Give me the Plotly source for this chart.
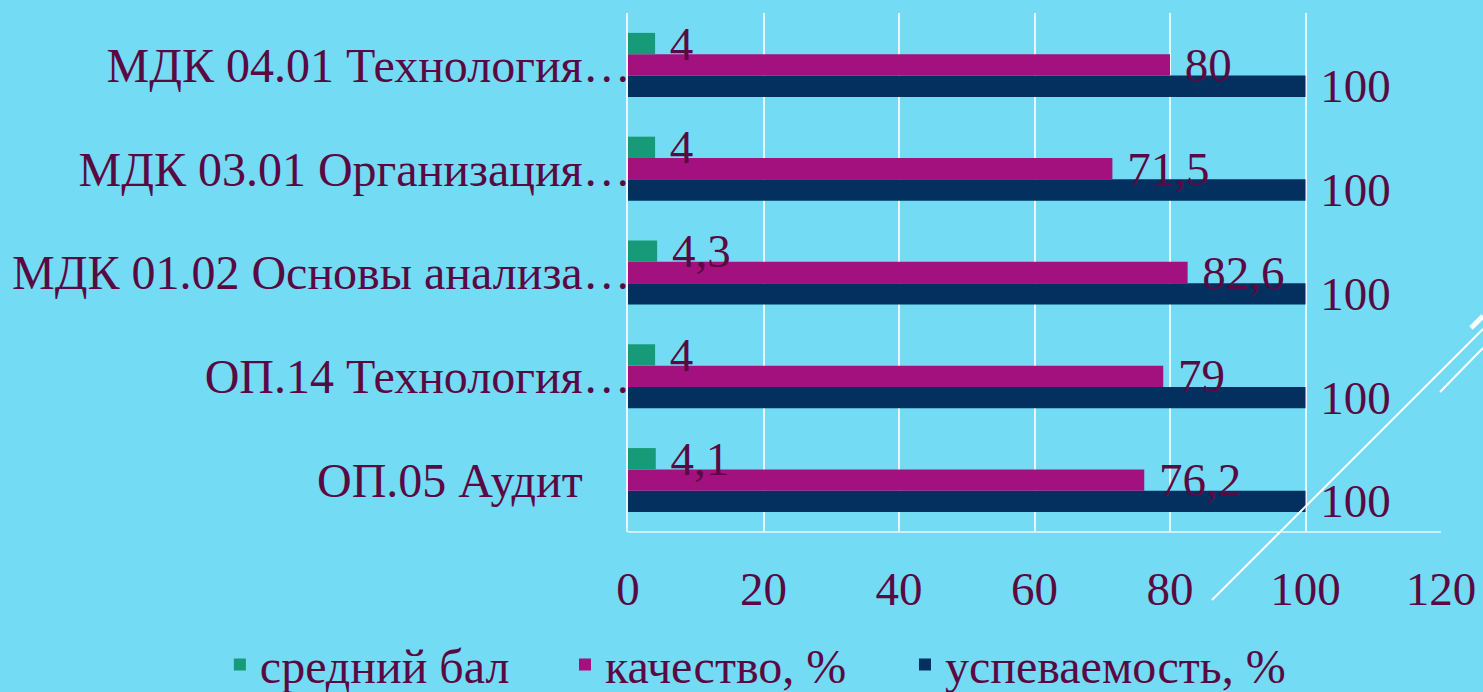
import plotly.graph_objects as go

categories = [
    "ОП.05 Аудит\u2003",
    "ОП.14 Технология…",
    "МДК 01.02 Основы анализа…",
    "МДК 03.01 Организация…",
    "МДК 04.01 Технология…",
]
avg_grade = [4.1, 4, 4.3, 4, 4]
quality = [76.2, 79, 82.6, 71.5, 80]
progress = [100, 100, 100, 100, 100]
x_ticks = [0, 20, 40, 60, 80, 100, 120]

BG = "#74DBF4"
TXT = "#5A0A42"
GRID = "#E8F7FB"
FONT = "Liberation Serif, Times New Roman, serif"
FS = 47


def fmt(vals):
    return ["\u00a0" + f"{v:g}".replace(".", ",") for v in vals]


series = [
    ("успеваемость, %", progress, "#03305F", "legend3"),
    ("качество, %", quality, "#A3117F", "legend2"),
    ("средний бал", avg_grade, "#169A78", "legend"),
]

fig = go.Figure()
for name, vals, color, leg in series:
    fig.add_trace(go.Bar(
        y=categories, x=vals, name=name, orientation="h",
        marker=dict(color=color, line=dict(width=0)),
        text=fmt(vals), textposition="outside", constraintext="none",
        textfont=dict(family=FONT, size=FS, color=TXT),
        cliponaxis=False, legend=leg,
    ))

leg_common = dict(orientation="h", xanchor="left", y=-0.256, yanchor="middle",
                  font=dict(family=FONT, size=48, color=TXT), bgcolor="rgba(0,0,0,0)",
                  itemwidth=30)

fig.update_layout(
    width=1483, height=692,
    paper_bgcolor=BG, plot_bgcolor=BG,
    margin=dict(l=628, r=42, t=13, b=160, autoexpand=False),
    barmode="group", bargap=0.383, bargroupgap=0,
    font=dict(family=FONT, size=FS, color=TXT),
    showlegend=True,
    legend=dict(x=-0.502, **leg_common),
    legend2=dict(x=-0.0775, **leg_common),
    legend3=dict(x=0.3407, **leg_common),
    xaxis=dict(range=[0, 120], tickvals=x_ticks, showgrid=True, gridcolor=GRID, gridwidth=1.5,
               zeroline=False, showline=False, ticks="", ticklabelstandoff=25,
               tickfont=dict(family=FONT, size=FS, color=TXT), fixedrange=True),
    yaxis=dict(showgrid=False, zeroline=False, showline=True, linecolor=GRID, linewidth=1.5,
               ticks="", ticklabelstandoff=-14,
               tickfont=dict(family=FONT, size=48, color=TXT), fixedrange=True),
    shapes=[
        dict(type="line", xref="paper", yref="paper", x0=0, x1=1, y0=0, y1=0,
             line=dict(color=GRID, width=1.5)),
        dict(type="line", xref="paper", yref="paper", x0=0.7183, y0=-0.131, x1=1.0517, y1=0.3911,
             line=dict(color="white", width=2)),
        dict(type="line", xref="paper", yref="paper", x0=0.9988, y0=0.2697, x1=1.0517, y1=0.3545,
             line=dict(color="white", width=2)),
        dict(type="line", xref="paper", yref="paper", x0=1.0369, y0=0.393, x1=1.0517, y1=0.416,
             line=dict(color="white", width=5)),
    ],
)

fig.write_html("out.html", config={"displayModeBar": False},
               post_script="document.body.style.margin='0';document.body.style.background='" + BG + "';")
